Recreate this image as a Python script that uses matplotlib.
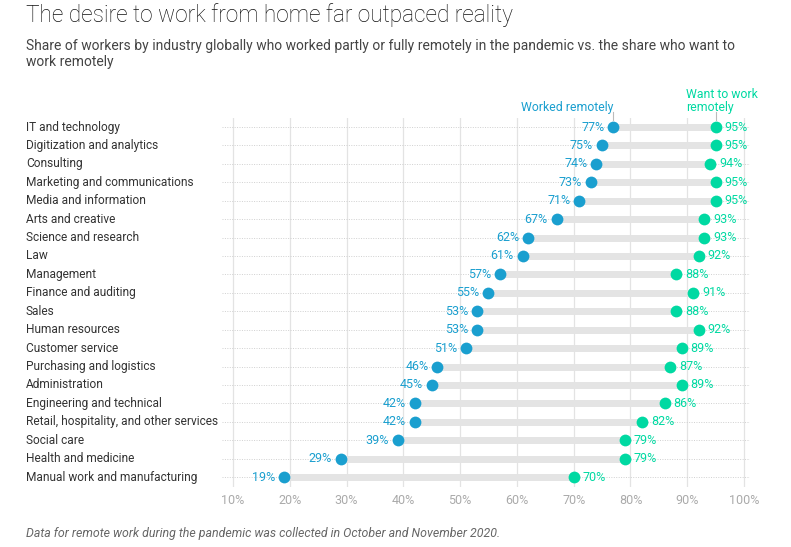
import matplotlib.pyplot as plt
from matplotlib.transforms import blended_transform_factory

plt.rcParams['font.family'] = ['Roboto', 'DejaVu Sans']

industries = [
    "IT and technology", "Digitization and analytics", "Consulting",
    "Marketing and communications", "Media and information", "Arts and creative",
    "Science and research", "Law", "Management", "Finance and auditing", "Sales",
    "Human resources", "Customer service", "Purchasing and logistics",
    "Administration", "Engineering and technical",
    "Retail, hospitality, and other services", "Social care",
    "Health and medicine", "Manual work and manufacturing",
]
worked = [77, 75, 74, 73, 71, 67, 62, 61, 57, 55, 53, 53, 51, 46, 45, 42, 42, 39, 29, 19]
want = [95, 95, 94, 95, 95, 93, 93, 92, 88, 91, 88, 92, 89, 87, 89, 86, 82, 79, 79, 70]
ticks = [10, 20, 30, 40, 50, 60, 70, 80, 90, 100]

BLUE = "#1a9fcf"
GREEN = "#00d9a2"
W, H = 791, 547

fig = plt.figure(figsize=(W / 100, H / 100), dpi=100)
# axes box in pixels: x 222..750, y 118..487
ax = fig.add_axes([222 / W, 1 - 487 / H, (750 - 222) / W, (487 - 118) / H])

px = (744 - 233) / 90.0
ax.set_xlim(10 - 11 / px, 100 + 6 / px)
ax.set_ylim(19.54, -0.49)

for t in ticks:
    ax.axvline(t, color="#e3e3e3", lw=0.9, zorder=0)
for i in range(len(industries)):
    ax.axhline(i, color="#d0d0d0", lw=0.7, ls=(0, (1, 1.5)), zorder=0)

rows = list(range(len(industries)))
for i, (a, b) in enumerate(zip(worked, want)):
    ax.plot([a, b], [i, i], color="#e4e4e4", lw=5, solid_capstyle="butt", zorder=1)
ax.scatter(worked, rows, s=72, color=BLUE, zorder=3, linewidths=0)
ax.scatter(want, rows, s=72, color=GREEN, zorder=3, linewidths=0)

for i, (a, b) in enumerate(zip(worked, want)):
    ax.annotate(f"{a}%", (a, i), xytext=(-6.5, 0), textcoords="offset points",
                ha="right", va="center", fontsize=9, color=BLUE)
    ax.annotate(f"{b}%", (b, i), xytext=(6.5, 0), textcoords="offset points",
                ha="left", va="center", fontsize=9, color=GREEN)

trans = blended_transform_factory(fig.transFigure, ax.transData)
for i, name in enumerate(industries):
    ax.text(26 / W, i, name, transform=trans, ha="left", va="center",
            fontsize=8.6, color="#333333")

ax.set_xticks(ticks)
ax.set_xticklabels([f"{t}%" for t in ticks], fontsize=9, color="#aaaaaa")
ax.tick_params(axis="x", length=0, pad=5)
ax.set_yticks([])
for s in ax.spines.values():
    s.set_visible(False)

# series headers
ax.annotate("Worked remotely", (worked[0], -0.4), xytext=(0, 4), textcoords="offset points",
            ha="right", va="bottom", fontsize=8.8, color=BLUE, annotation_clip=False)
ax.plot([worked[0], worked[0]], [-0.8, -0.4], color="#bbbbbb", lw=0.8, clip_on=False)
ax.annotate("Want to work\nremotely", (want[0], -0.4), xytext=(-21, 4), textcoords="offset points",
            ha="left", va="bottom", fontsize=8.8, color=GREEN, linespacing=1.05,
            annotation_clip=False)
ax.plot([want[0], want[0]], [-0.8, -0.4], color="#bbbbbb", lw=0.8, clip_on=False)

fig.text(26 / W, 1 - 15 / H, "The desire to work from home far outpaced reality",
         fontsize=16.3, color="#111111", va="center", fontweight="light")
fig.text(26 / W, 1 - 54 / H,
         "Share of workers by industry globally who worked partly or fully remotely in the pandemic vs. the share who want to\nwork remotely",
         fontsize=10, color="#444444", va="center", linespacing=1.25)
fig.text(26 / W, 1 - 533 / H,
         "Data for remote work during the pandemic was collected in October and November 2020.",
         fontsize=8.9, color="#666666", style="italic", va="center")

fig.savefig("out.png", dpi=100)
